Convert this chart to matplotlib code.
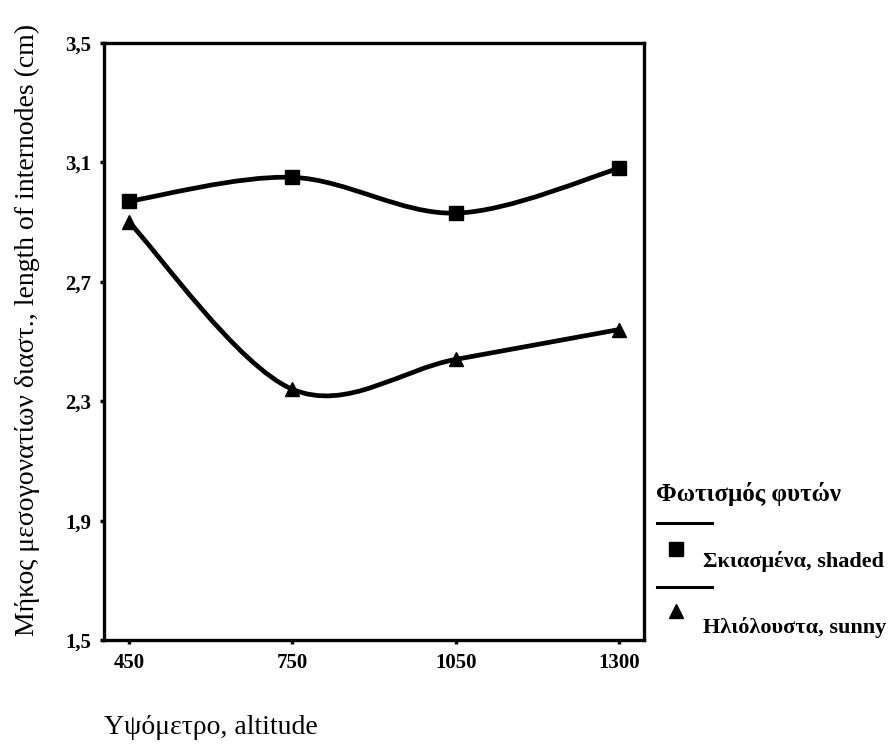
import numpy as np
import matplotlib
matplotlib.use('Agg')
import matplotlib.pyplot as plt
from matplotlib.path import Path
from matplotlib.patches import PathPatch
from matplotlib.lines import Line2D

# Data
altitudes = ['450', '750', '1050', '1300']
shaded = [2.97, 3.05, 2.93, 3.08]
sunny = [2.90, 2.34, 2.44, 2.54]
y_ticks = [1.5, 1.9, 2.3, 2.7, 3.1, 3.5]

legend_title = 'Φωτισμός φυτών'
label_shaded = 'Σκιασμένα, shaded'
label_sunny = 'Ηλιόλουστα, sunny'
xlabel = 'Υψόμετρο, altitude'
ylabel = 'Μήκος μεσογονατίων διαστ., length of internodes (cm)'

plt.rcParams['font.family'] = ['Liberation Serif', 'DejaVu Serif']

W, H = 896, 746


def fx(px):
    return px / W


def fy(py):
    return 1 - py / H


def smooth_path(xs, ys):
    """Catmull-Rom curve through the points, as cubic bezier segments."""
    pts = np.column_stack([xs, ys]).astype(float)
    n = len(pts)
    verts = [pts[0]]
    codes = [Path.MOVETO]
    for i in range(n - 1):
        p0 = pts[i - 1] if i > 0 else pts[i]
        p1, p2 = pts[i], pts[i + 1]
        p3 = pts[i + 2] if i + 2 < n else pts[i + 1]
        c1 = p1 + (p2 - p0) / 6
        c2 = p2 - (p3 - p1) / 6
        verts += [c1, c2, p2]
        codes += [Path.CURVE4] * 3
    return Path(verts, codes)


fig = plt.figure(figsize=(W / 100, H / 100), dpi=100)
ax = fig.add_axes([fx(104), fy(640), (644 - 104) / W, (640 - 43) / H])

x = np.arange(len(altitudes))
for vals, mk, ms in [(shaded, 's', 10), (sunny, '^', 10)]:
    ax.add_patch(PathPatch(smooth_path(x, vals), facecolor='none',
                           edgecolor='black', lw=3.4))
    ax.plot(x, vals, linestyle='none', marker=mk, ms=ms, color='black')

ax.set_xlim(-0.153, 3.153)
ax.set_ylim(1.5, 3.5)
ax.set_xticks(x)
ax.set_xticklabels(altitudes, fontsize=15, fontweight='bold')
ax.set_yticks(y_ticks)
ax.set_yticklabels([f'{t:.1f}'.replace('.', ',') for t in y_ticks],
                   fontsize=15, fontweight='bold')
ax.tick_params(direction='out', length=3, width=2.5, pad=6)
for s in ax.spines.values():
    s.set_linewidth(2.4)

fig.text(fx(27), fy(330), ylabel, rotation=90, fontsize=20,
         ha='center', va='center')
fig.text(fx(104), fy(728), xlabel, fontsize=20, ha='left', va='center')

# Legend, drawn by hand to follow the original layout
fig.text(fx(656), fy(494), legend_title, fontsize=18,
         fontweight='bold', ha='left', va='center')
for yl in [523, 587]:
    fig.add_artist(Line2D([fx(657), fx(712)], [fy(yl)] * 2,
                          color='black', lw=2.2))
fig.add_artist(Line2D([fx(676)], [fy(549)], marker='s', ms=10,
                      color='black', linestyle='none'))
fig.add_artist(Line2D([fx(676)], [fy(611)], marker='^', ms=10,
                      color='black', linestyle='none'))
fig.text(fx(703), fy(561), label_shaded, fontsize=16,
         fontweight='bold', ha='left', va='center')
fig.text(fx(703), fy(627), label_sunny, fontsize=16,
         fontweight='bold', ha='left', va='center')

fig.savefig('out.png', dpi=100)
